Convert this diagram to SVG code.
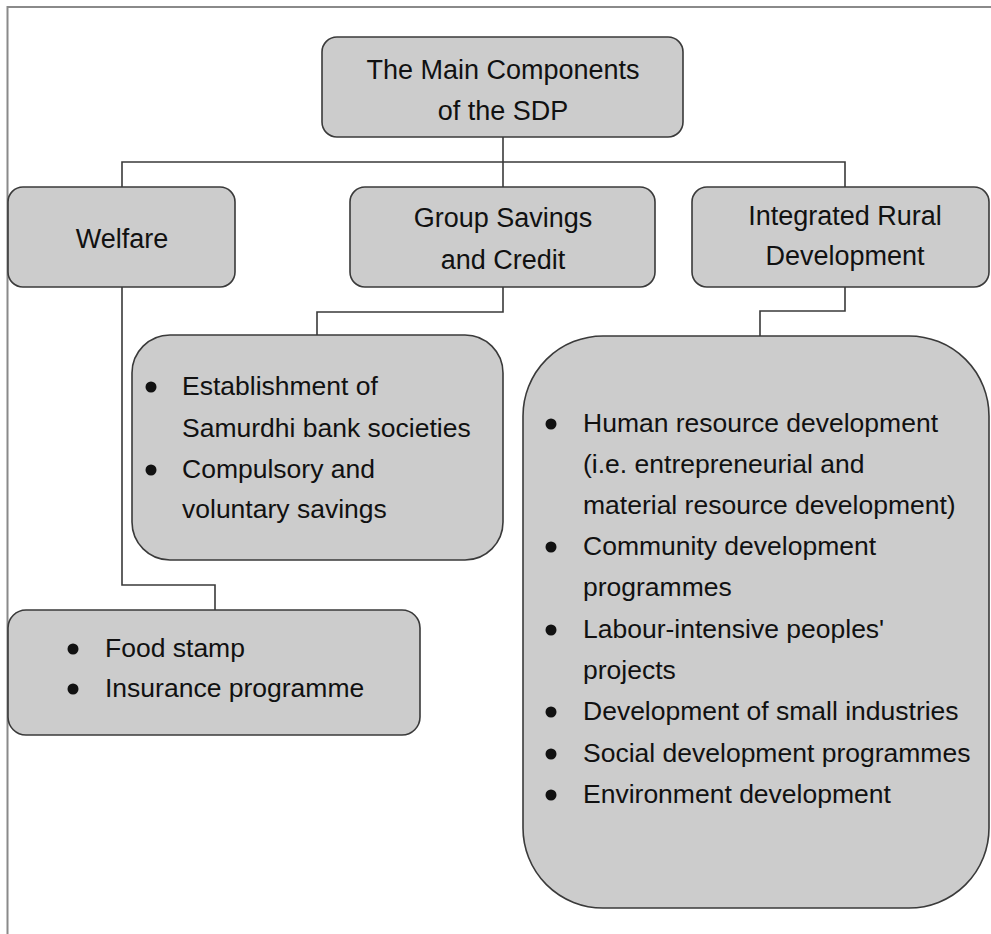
<svg xmlns="http://www.w3.org/2000/svg" width="991" height="934" viewBox="0 0 991 934">
<style>
.box{fill:#cccccc;stroke:#3a3a3a;stroke-width:1.6}
.ln{fill:none;stroke:#3a3a3a;stroke-width:1.6}
.frame{fill:none;stroke:#8a8a8a;stroke-width:2}
text{font-family:"Liberation Sans",Arial,sans-serif;fill:#111}
.h{font-size:27px;text-anchor:middle}
.b{font-size:26.5px}
.dot{fill:#111}
</style>
<rect width="991" height="934" fill="#ffffff"/>
<path class="frame" d="M7.5,934 V7 H991"/>
<g id="connectors">
<path class="ln" d="M503,137 V187"/>
<path class="ln" d="M122,187 V162 H845 V187"/>
<path class="ln" d="M122,287 V585 H215 V610"/>
<path class="ln" d="M503,287 V312 H317 V335"/>
<path class="ln" d="M845,287 V311 H760 V336"/>
</g>
<g id="root">
<rect class="box" x="322" y="37" width="361" height="100" rx="15"/>
<text class="h" x="503" y="79">The Main Components</text>
<text class="h" x="503" y="120">of the SDP</text>
</g>
<g id="welfare">
<rect class="box" x="8" y="187" width="227" height="100" rx="15"/>
<text class="h" x="122" y="248">Welfare</text>
</g>
<g id="group">
<rect class="box" x="350" y="187" width="305" height="100" rx="15"/>
<text class="h" x="503" y="227">Group Savings</text>
<text class="h" x="503" y="269">and Credit</text>
</g>
<g id="ird">
<rect class="box" x="692" y="187" width="297" height="100" rx="15"/>
<text class="h" x="845" y="225">Integrated Rural</text>
<text class="h" x="845" y="265">Development</text>
</g>
<g id="welfare-items">
<rect class="box" x="8" y="610" width="412" height="125" rx="18"/>
<circle class="dot" cx="73" cy="649" r="5.5"/>
<circle class="dot" cx="73" cy="689" r="5.5"/>
<text class="b" x="105" y="657">Food stamp</text>
<text class="b" x="105" y="697">Insurance programme</text>
</g>
<g id="group-items">
<rect class="box" x="132" y="335" width="371" height="225" rx="38"/>
<circle class="dot" cx="151" cy="387" r="5.5"/>
<circle class="dot" cx="151" cy="470" r="5.5"/>
<text class="b" x="182" y="395">Establishment of</text>
<text class="b" x="182" y="437">Samurdhi bank societies</text>
<text class="b" x="182" y="478">Compulsory and</text>
<text class="b" x="182" y="518">voluntary savings</text>
</g>
<g id="ird-items">
<rect class="box" x="523" y="336" width="466" height="572" rx="80"/>
<circle class="dot" cx="551" cy="424" r="5.5"/>
<circle class="dot" cx="551" cy="547" r="5.5"/>
<circle class="dot" cx="551" cy="630" r="5.5"/>
<circle class="dot" cx="551" cy="712" r="5.5"/>
<circle class="dot" cx="551" cy="754" r="5.5"/>
<circle class="dot" cx="551" cy="795" r="5.5"/>
<text class="b" x="583" y="432">Human resource development</text>
<text class="b" x="583" y="473">(i.e. entrepreneurial and</text>
<text class="b" x="583" y="514">material resource development)</text>
<text class="b" x="583" y="555">Community development</text>
<text class="b" x="583" y="596">programmes</text>
<text class="b" x="583" y="638">Labour-intensive peoples'</text>
<text class="b" x="583" y="679">projects</text>
<text class="b" x="583" y="720">Development of small industries</text>
<text class="b" x="583" y="762">Social development programmes</text>
<text class="b" x="583" y="803">Environment development</text>
</g>
</svg>
